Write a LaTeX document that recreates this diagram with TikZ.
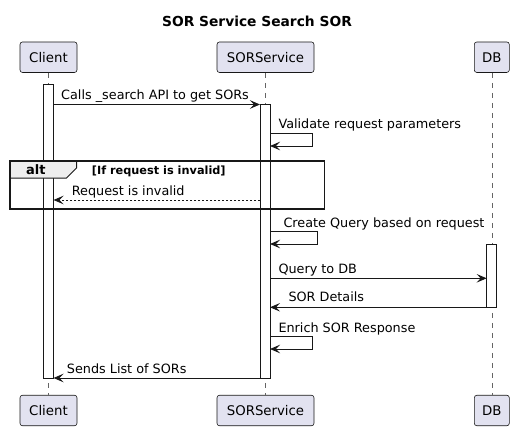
\documentclass[tikz,border=0pt]{standalone}
\usepackage{fontspec}
\setmainfont{DejaVu Sans}
\usetikzlibrary{arrows.meta}
\definecolor{partfill}{RGB}{226,226,240}
\definecolor{partline}{RGB}{24,24,24}
\definecolor{tabfill}{RGB}{238,238,238}
\definecolor{lifegrey}{RGB}{100,100,100}
\begin{document}
\begin{tikzpicture}[x=1pt,y=-1pt,
  part/.style={draw=partline, fill=partfill, rounded corners=2.5pt, line width=0.6pt,
    minimum height=30.5pt, inner sep=0pt, font=\fontsize{13.3}{15}\selectfont},
  life/.style={draw=lifegrey, line width=0.6pt, dash pattern=on 5pt off 5pt},
  actbar/.style={draw=partline, fill=white, line width=0.9pt},
  msg/.style={draw=partline, line width=0.9pt, -{Stealth[length=10pt,width=8.5pt,inset=4pt]}},
  ret/.style={msg, dash pattern=on 2pt off 2pt},
  lbl/.style={anchor=base west, inner sep=0pt, font=\fontsize{12.8}{14}\selectfont}
]
\useasboundingbox (0,0) rectangle (514,431);
% title
\node[font=\bfseries\fontsize{13.8}{16}\selectfont, anchor=base] (title) at (257,27) {SOR Service Search SOR};
% participants
\node[part, minimum width=57pt] (cT) at (48.5,57.2) {Client};
\node[part, minimum width=97pt] (sT) at (265.5,57.2) {SORService};
\node[part, minimum width=35pt] (dT) at (491.8,57.2) {DB};
\node[part, minimum width=57pt] (cB) at (48.5,410.5) {Client};
\node[part, minimum width=97pt] (sB) at (265.5,410.5) {SORService};
\node[part, minimum width=35pt] (dB) at (491.8,410.5) {DB};
% lifelines
\draw[life] (cT.south) -- (cB.north);
\draw[life] (sT.south) -- (sB.north);
\draw[life] (dT.south) -- (dB.north);
% activations
\draw[actbar] (43.5,84) rectangle (53.5,378);
\draw[actbar] (260,104.3) rectangle (270,378);
\draw[actbar] (486.7,244.3) rectangle (496.7,307.3);
% coordinates
\coordinate (c1) at (53.5,104.5);
\coordinate (s1) at (260,104.5);
\coordinate (v0) at (270,133.3);
\coordinate (v1) at (312.3,133.3);
\coordinate (v2) at (312.3,146);
\coordinate (v3) at (270,146);
\coordinate (ri0) at (260,200);
\coordinate (ri1) at (53.5,200);
\coordinate (q0) at (270,231.3);
\coordinate (q1) at (317.7,231.3);
\coordinate (q2) at (317.7,244);
\coordinate (q3) at (270,244);
\coordinate (d0) at (270,278.3);
\coordinate (d1) at (486.7,278.3);
\coordinate (e0) at (486.7,307.3);
\coordinate (e1) at (270,307.3);
\coordinate (n0) at (270,336.3);
\coordinate (n1) at (312.3,336.3);
\coordinate (n2) at (312.3,349);
\coordinate (n3) at (270,349);
\coordinate (l0) at (260,378);
\coordinate (l1) at (53.5,378);
% alt frame
\draw[fill=tabfill, draw=partline, line width=1pt] (10,161) -- (76.5,161) -- (76.5,168) -- (66.5,178) -- (10,178) -- cycle;
\draw[draw=partline, line width=1.6pt] (10,161) rectangle (324.3,208.7);
\node[anchor=base west, inner sep=0pt, font=\bfseries\fontsize{13}{15}\selectfont] (altlbl) at (26,174.5) {alt};
\node[anchor=base west, inner sep=0pt, font=\bfseries\fontsize{11.3}{13}\selectfont] (altcond) at (91.7,174) {[If request is invalid]};
% messages
\draw[msg] (c1) -- (s1);
\node[lbl] (m1) at (61,99.3) {Calls \_search API to get SORs};
\draw[msg] (v0) -- (v1) -- (v2) -- (v3);
\node[lbl] (m2) at (278.3,128.8) {Validate request parameters};
\draw[ret] (ri0) -- (ri1);
\node[lbl] (m3) at (71.7,195) {Request is invalid};
\draw[msg] (q0) -- (q1) -- (q2) -- (q3);
\node[lbl] (m4) at (283.3,227.5) {Create Query based on request};
\draw[msg] (d0) -- (d1);
\node[lbl] (m5) at (278.3,273.3) {Query to DB};
\draw[msg] (e0) -- (e1);
\node[lbl] (m6) at (288.3,301.7) {SOR Details};
\draw[msg] (n0) -- (n1) -- (n2) -- (n3);
\node[lbl] (m7) at (278.3,332) {Enrich SOR Response};
\draw[msg] (l0) -- (l1);
\node[lbl] (m8) at (66.7,373.7) {Sends List of SORs};
\end{tikzpicture}
\end{document}
